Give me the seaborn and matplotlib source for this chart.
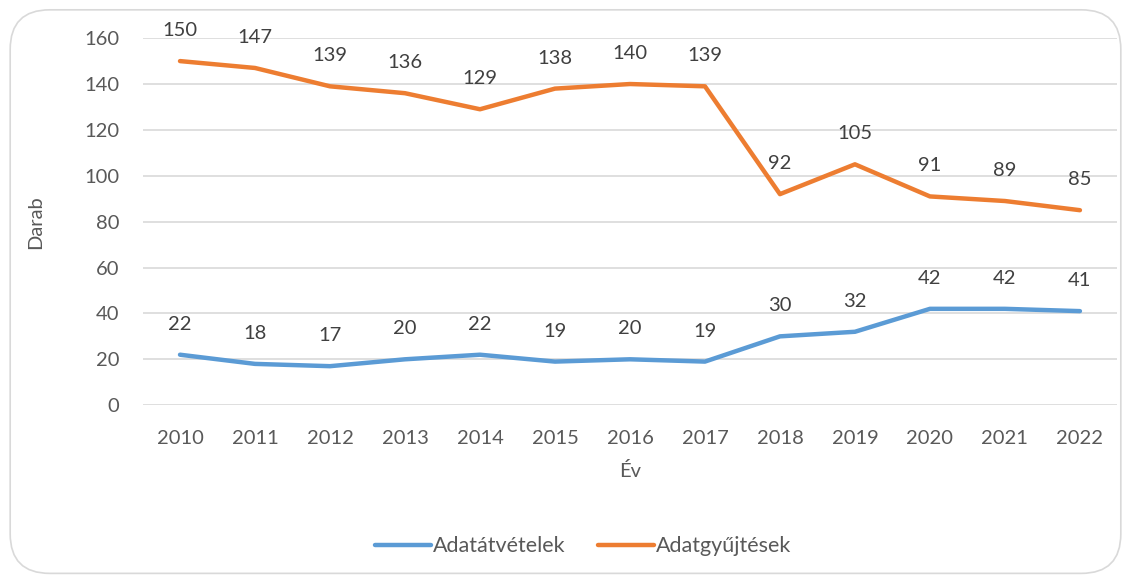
import pandas as pd
import matplotlib.pyplot as plt
import seaborn as sns
from matplotlib.patches import FancyBboxPatch

years = [2010, 2011, 2012, 2013, 2014, 2015, 2016, 2017, 2018, 2019, 2020, 2021, 2022]
adatatvetelek = [22, 18, 17, 20, 22, 19, 20, 19, 30, 32, 42, 42, 41]
adatgyujtesek = [150, 147, 139, 136, 129, 138, 140, 139, 92, 105, 91, 89, 85]
series_names = ['Adatátvételek', 'Adatgyűjtések']
colors = ['#5B9BD5', '#ED7D31']

df = pd.DataFrame({'Év': years * 2,
                   'Darab': adatatvetelek + adatgyujtesek,
                   'Sorozat': [series_names[0]] * len(years) + [series_names[1]] * len(years)})
df['pos'] = df['Év'].map({y: i for i, y in enumerate(years)})

sns.set_style('white')
plt.rcParams['font.family'] = ['Lato', 'DejaVu Sans']
txt = '#595959'
fs = 14.5

fig = plt.figure(figsize=(11.31, 5.78), dpi=100)
border = FancyBboxPatch((0.009, 0.008), 0.982, 0.975, boxstyle='round,pad=0,rounding_size=0.035',
                        transform=fig.transFigure, facecolor='white', edgecolor='#d9d9d9',
                        linewidth=1.2, mutation_aspect=1131 / 578, zorder=-5)
fig.patches.append(border)
ax = fig.add_axes([0.126, 0.299, 0.862, 0.635])
ax.set_facecolor('none')

sns.lineplot(data=df, x='pos', y='Darab', hue='Sorozat', palette=colors, linewidth=3.2,
             ax=ax, legend=True, solid_capstyle='round')

for name, vals in zip(series_names, [adatatvetelek, adatgyujtesek]):
    for i, v in enumerate(vals):
        ax.annotate(str(v), (i, v), xytext=(0, 22), textcoords='offset points',
                    ha='center', va='center', fontsize=fs, color='#404040')

ax.set_xlim(-0.5, len(years) - 0.5)
ax.set_ylim(0, 160)
ax.set_yticks(range(0, 161, 20))
ax.set_xticks(range(len(years)))
ax.set_xticklabels([str(y) for y in years])
ax.grid(axis='y', color='#d9d9d9', linewidth=1.2)
ax.grid(axis='x', visible=False)
for s in ax.spines.values():
    s.set_visible(False)
ax.tick_params(axis='both', length=0, labelsize=fs, labelcolor=txt)
ax.tick_params(axis='x', pad=18)
ax.tick_params(axis='y', pad=16.5)
ax.set_xlabel('Év', fontsize=fs, color=txt, labelpad=11)
ax.set_ylabel('Darab', fontsize=fs, color=txt, labelpad=29)

handles, labels = ax.get_legend_handles_labels()
ax.legend(handles, labels, loc='center', bbox_to_anchor=(0.452, -0.385), ncol=2, frameon=False,
          fontsize=15.5, labelcolor=txt, handlelength=2.6, handletextpad=0.1, columnspacing=1.5)

fig.savefig('out.png', dpi=100)
